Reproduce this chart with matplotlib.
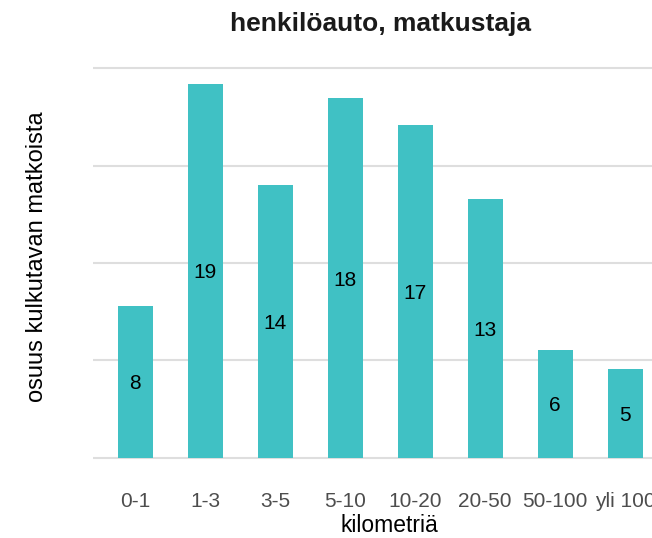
import matplotlib
matplotlib.use("Agg")
import matplotlib.pyplot as plt

categories = ["0-1", "1-3", "3-5", "5-10", "10-20", "20-50", "50-100", "yli 100"]
values = [7.8, 19.2, 14.0, 18.45, 17.1, 13.3, 5.55, 4.55]
yticks = [0, 5, 10, 15, 20]

title = "henkilöauto, matkustaja"
xlabel = "kilometriä"
ylabel = "osuus kulkutavan matkoista"

plt.rcParams['font.family'] = ['Liberation Sans', 'DejaVu Sans']

W, H = 652, 538
fig = plt.figure(figsize=(W / 100, H / 100), dpi=100)
fig.patch.set_facecolor("white")

ax_left, ax_right = 93, 667
ax_top, ax_bottom = 64.7, 476.7
ax = fig.add_axes([ax_left / W, 1 - ax_bottom / H, (ax_right - ax_left) / W, (ax_bottom - ax_top) / H])

pos = list(range(1, len(categories) + 1))
bars = ax.bar(pos, values, width=0.5, color="#40C1C4", zorder=3)
for p, v in zip(pos, values):
    ax.text(p, v / 2, f"{round(v)}", ha="center", va="center_baseline", fontsize=15, color="black", zorder=4)

ax.set_xlim(0.4, 8.6)
ax.set_ylim(-0.96, 20.17)
ax.set_yticks(yticks)
ax.set_yticklabels([])
ax.set_xticks(pos)
ax.set_xticklabels(categories, fontsize=15, color="#4d4d4d")
ax.tick_params(axis="both", length=0)
ax.tick_params(axis="x", pad=11)
ax.grid(axis="y", color="#dedede", linewidth=1.5, zorder=0)
ax.grid(axis="x", visible=False)
for s in ax.spines.values():
    s.set_visible(False)
ax.set_facecolor("white")

fig.text(380 / W, 1 - 24.5 / H, title, ha="center", va="center", fontsize=19, fontweight="bold", color="#1a1a1a")
fig.text(389 / W, 1 - 532.5 / H, xlabel, ha="center", va="baseline", fontsize=16.5, color="black")
fig.text(43 / W, 1 - 257 / H, ylabel, ha="center", va="baseline", rotation=90, rotation_mode="anchor",
         fontsize=17, color="black")

fig.savefig("out.png", dpi=100, facecolor="white")
